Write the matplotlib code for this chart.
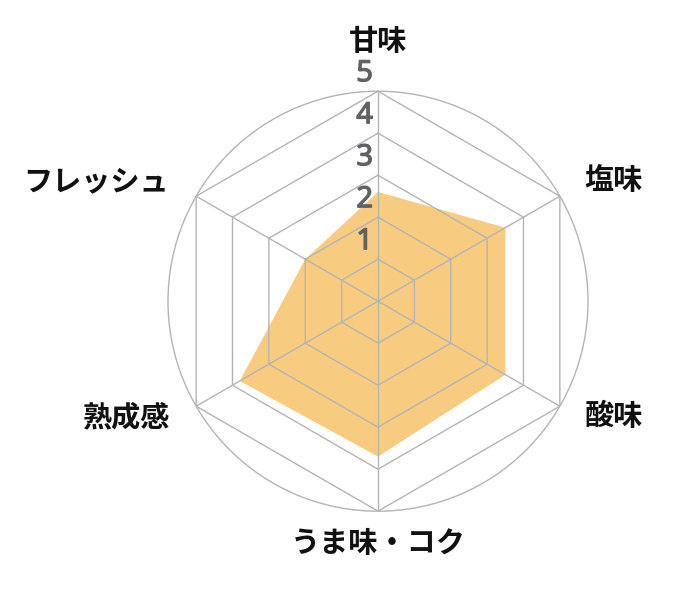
import matplotlib
matplotlib.use("Agg")
import matplotlib.pyplot as plt
import matplotlib.patheffects as pe
import numpy as np

plt.rcParams["font.family"] = ["Noto Sans CJK JP", "DejaVu Sans"]

# axes clockwise from the top
labels = ["甘味", "塩味", "酸味", "うま味・コク", "熟成感", "フレッシュ"]
values = [2.6, 3.5, 3.5, 3.7, 3.8, 2.0]
levels = [1, 2, 3, 4, 5]

FILL = "#F8CC80"
GRID = "#B4B4B4"
TICK = "#606266"

n = len(labels)
angles = np.arange(n) * 2 * np.pi / n

fig = plt.figure(figsize=(7, 6), dpi=100)
ax = fig.add_axes([0.24, 0.148, 0.6, 0.7], projection="polar")
ax.set_theta_offset(np.pi / 2)
ax.set_theta_direction(-1)
ax.set_ylim(0, 5)
ax.grid(False)
ax.set_xticks([])
ax.set_yticks([])
ax.spines["polar"].set_color(GRID)
ax.spines["polar"].set_linewidth(1.0)

a_closed = np.append(angles, angles[0])
v_closed = np.append(values, values[0])
ax.fill(a_closed, v_closed, color=FILL, lw=0, zorder=1)

# hexagon rings and spokes drawn on top of the fill
for lv in levels:
    ax.plot(a_closed, [lv] * (n + 1), color=GRID, lw=1.0, zorder=2)
for a in angles:
    ax.plot([a, a], [0, 5], color=GRID, lw=1.0, zorder=2)

# thicken the regular digits a little to get a medium weight
thick = [pe.withStroke(linewidth=0.9, foreground=TICK)]
for lv in levels:
    ax.annotate(str(lv), xy=(0, lv), xytext=(-5, 3), textcoords="offset pixels",
                ha="right", va="bottom", fontsize=21, color=TICK,
                family=["Noto Sans", "DejaVu Sans"], zorder=3, path_effects=thick)

offsets = [(0, 50), (54, 16), (54, -10), (0, -32), (-69, -11), (-100, 15)]
for a, lab, off in zip(angles, labels, offsets):
    ax.annotate(lab, xy=(a, 5), xytext=off, textcoords="offset pixels",
                ha="center", va="center", fontsize=21, fontweight="bold",
                color="#111111", annotation_clip=False)

fig.savefig("out.png", dpi=100)
